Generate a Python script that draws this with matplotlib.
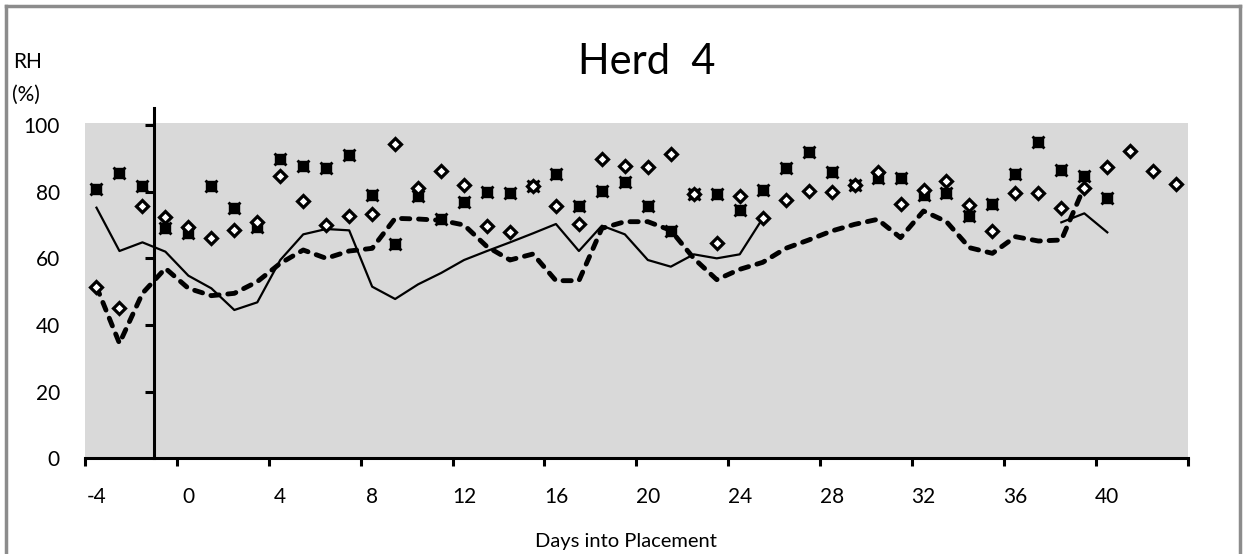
import numpy as np
import matplotlib
matplotlib.use("Agg")
import matplotlib.pyplot as plt
from matplotlib.lines import Line2D

plt.rcParams['font.family'] = ['Lato', 'DejaVu Sans']

nan = np.nan
days = list(range(-4, 44))

# house RH, solid trace (gap between day 26 and 37)
rh_solid = [75.2, 62.2, 64.8, 62.0, 54.8, 51.0, 44.5, 46.8, 59.5, 67.2,
            68.8, 68.4, 51.5, 47.8, 52.2, 55.6, 59.5, 62.2, 64.8, 67.5,
            70.3, 62.2, 69.8, 67.2, 59.5, 57.5, 61.2, 60.0, 61.2, 72.0,
            nan, nan, nan, nan, nan, nan, nan, nan, nan, nan,
            nan, nan, 70.8, 73.5, 67.8, nan, nan, nan]

# house RH, dashed trace
rh_dashed = [51.5, 34.5, 49.5, 57.0, 51.0, 48.8, 49.5, 53.0, 58.5, 62.5,
             60.0, 62.2, 63.0, 72.0, 71.8, 71.4, 70.0, 63.5, 59.5, 61.3,
             53.3, 53.3, 69.0, 71.0, 71.0, 68.4, 60.0, 53.6, 56.7, 58.8,
             63.0, 65.5, 68.2, 70.2, 71.7, 66.2, 74.2, 71.0, 63.2, 61.5,
             66.5, 65.2, 65.5, 81.5, nan, nan, nan, nan]

# open diamonds
rh_diamond = [51.3, 45.2, 75.8, 72.5, 69.5, 66.2, 68.6, 71.0, 84.8, 77.2,
              70.0, 72.8, 73.2, 94.3, 81.2, 86.3, 82.0, 69.7, 68.0, 81.7,
              75.7, 70.3, 89.8, 87.8, 87.5, 91.2, 79.2, 64.5, 78.8, 72.0,
              77.5, 80.3, 80.0, 82.0, 86.0, 76.2, 80.5, 83.2, 76.0, 68.2,
              79.7, 79.7, 75.0, 81.2, 87.3, 92.2, 86.3, 82.4]

# filled squares / crosses
rh_square = [80.8, 85.7, 81.8, 69.0, 67.5, 81.7, 75.2, 69.5, 89.7, 87.8,
             87.2, 91.0, 79.0, 64.3, 78.7, 71.7, 77.0, 80.0, 79.7, 81.7,
             85.2, 75.7, 80.2, 82.8, 75.7, 68.2, 79.2, 79.3, 74.5, 80.5,
             87.2, 92.0, 86.0, 82.0, 84.0, 84.0, 79.0, 79.5, 72.8, 76.4,
             85.2, 94.8, 86.5, 84.8, 78.2, nan, nan, nan]

yticks = [0, 20, 40, 60, 80, 100]
xlabels = list(range(-4, 41, 4))
yaxis_day = -1.5

W, H = 1245, 554
fig = plt.figure(figsize=(W / 100, H / 100), dpi=100)
ax = fig.add_axes([85 / W, 1 - 458.3 / H, (1187.7 - 85) / W, (458.3 - 122.7) / H])
ax.set_facecolor('#d9d9d9')
ax.set_xlim(-4.5, 43.5)
ax.set_ylim(0, 100.7)

ax.plot(days, rh_solid, color='black', lw=1.6, zorder=3)
ax.plot(days, rh_dashed, color='black', lw=3.5, dashes=(1.7, 1.8),
        dash_capstyle='round', zorder=3)
ax.plot(days, rh_square, ls='none', marker='s', ms=7, color='black', zorder=4)
ax.plot(days, rh_square, ls='none', marker='x', ms=8.5, mew=2, color='black', zorder=4)
ax.plot(days, rh_diamond, ls='none', marker='D', ms=6.3, mfc='white',
        mec='black', mew=2.3, zorder=5)

# vertical axis crossing between day -2 and -1
ax.plot([yaxis_day, yaxis_day], [0, 105], color='black', lw=2.2,
        clip_on=False, zorder=6)
ax.plot([yaxis_day] * 5, yticks[1:], ls='none', marker=0, ms=6.5, mew=2.2,
        color='black', clip_on=False, zorder=6)

for s in ['top', 'right', 'left']:
    ax.spines[s].set_visible(False)
ax.spines['bottom'].set_linewidth(2.2)
ax.spines['bottom'].set_zorder(6)

ax.set_yticks(yticks)
ax.set_yticklabels([str(v) for v in yticks])
ax.tick_params(axis='y', length=0, pad=18, labelsize=15)

ax.set_xticks(np.arange(-4.5, 44, 4))
ax.set_xticklabels([])
ax.tick_params(axis='x', which='major', length=6, width=2.2, direction='out')
ax.set_xticks(xlabels, minor=True)
ax.set_xticklabels([str(v) for v in xlabels], minor=True)
ax.tick_params(axis='x', which='minor', length=0, pad=21, labelsize=15)

fig.text(13 / W, 1 - 62 / H, 'RH', ha='left', va='center', fontsize=15)
fig.text(12 / W, 1 - 95 / H, '(%)', ha='left', va='center', fontsize=15)
fig.text(647 / W, 1 - 62 / H, 'Herd  4', ha='center', va='center', fontsize=30)
fig.text(626 / W, 1 - 541 / H, 'Days into Placement', ha='center', va='center',
         fontsize=14.5)

# outer chart frame
frame = dict(transform=fig.transFigure, color='#8c8c8c', lw=2.5)
fig.add_artist(Line2D([6 / W, 6 / W], [0, 1 - 6 / H], **frame))
fig.add_artist(Line2D([6 / W, 1240 / W], [1 - 6 / H, 1 - 6 / H], **frame))
fig.add_artist(Line2D([1240 / W, 1240 / W], [0, 1 - 6 / H], **frame))

fig.savefig('out.png', dpi=100)
